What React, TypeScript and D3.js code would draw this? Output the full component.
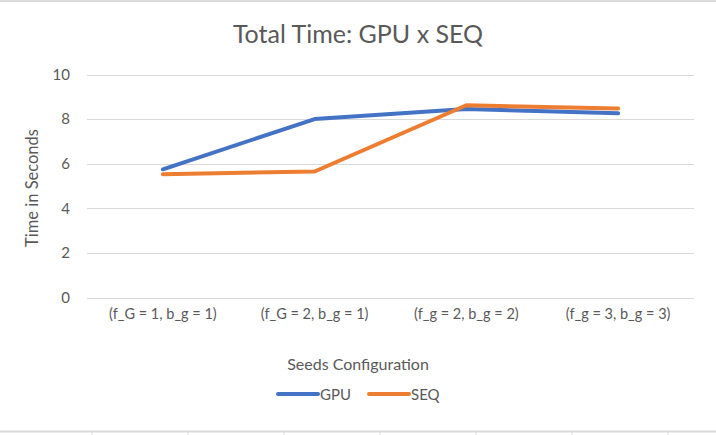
import * as d3 from 'd3';
import React, { useEffect, useRef } from 'react';

const categories = ['(f_G = 1, b_g = 1)', '(f_G = 2, b_g = 1)', '(f_g = 2, b_g = 2)', '(f_g = 3, b_g = 3)'];
const gpuTimes = [5.75, 8.0, 8.45, 8.26];
const seqTimes = [5.53, 5.65, 8.62, 8.48];
const yTicks = [0, 2, 4, 6, 8, 10];
const seriesNames = ['GPU', 'SEQ'];

const W = 716;
const H = 435;
const FONT = 'Lato, "Open Sans", sans-serif';
const TEXT = '#595959';
const GRID = '#d9d9d9';
const colors = ['#4472C4', '#ED7D31'];

const App = () => {
  const ref = useRef<SVGSVGElement | null>(null);

  useEffect(() => {
    if (!ref.current) return;
    const svg = d3.select(ref.current);
    svg.selectAll('*').remove();

    svg.append('rect').attr('width', W).attr('height', H).style('fill', '#fff');

    // sheet borders around the chart
    svg.append('line').attr('x1', 0).attr('x2', W).attr('y1', 1).attr('y2', 1)
      .style('stroke', GRID).style('stroke-width', 2);
    svg.append('line').attr('x1', 0).attr('x2', W).attr('y1', 431.5).attr('y2', 431.5)
      .style('stroke', GRID).style('stroke-width', 2);
    d3.range(7).forEach((i) => {
      const x = 92 + i * 96;
      svg.append('line').attr('x1', x).attr('x2', x).attr('y1', 432).attr('y2', H)
        .style('stroke', GRID).style('stroke-width', 1);
    });

    const xScale = d3.scaleBand().domain(categories).range([87, 694]);
    const yScale = d3.scaleLinear().domain([0, 10]).range([297.5, 74.5]);

    // title
    svg.append('text')
      .attr('x', 358).attr('y', 43)
      .attr('text-anchor', 'middle')
      .style('font-family', FONT).style('font-size', '25px').style('fill', TEXT)
      .text('Total Time: GPU x SEQ');

    // gridlines
    const grid = svg.append('g');
    yTicks.forEach((t) => {
      grid.append('line')
        .attr('x1', 87).attr('x2', 694)
        .attr('y1', Math.round(yScale(t)) + 0.5).attr('y2', Math.round(yScale(t)) + 0.5)
        .style('stroke', GRID).style('stroke-width', 1);
    });

    const yAxis = svg.append('g').attr('transform', 'translate(76,0)')
      .call(d3.axisLeft(yScale).tickValues(yTicks).tickSize(0).tickPadding(6));
    yAxis.select('.domain').remove();
    yAxis.selectAll('text').style('font-family', FONT).style('font-size', '15px').style('fill', TEXT);

    const xAxis = svg.append('g').attr('transform', 'translate(0,306)')
      .call(d3.axisBottom(xScale).tickSize(0).tickPadding(3));
    xAxis.select('.domain').remove();
    xAxis.selectAll('text').style('font-family', FONT).style('font-size', '14.5px').style('fill', TEXT);

    // axis titles
    svg.append('text')
      .attr('transform', 'translate(38,188) rotate(-90)')
      .attr('text-anchor', 'middle')
      .style('font-family', FONT).style('font-size', '16.5px').style('fill', TEXT)
      .text('Time in Seconds');
    svg.append('text')
      .attr('x', 358).attr('y', 370)
      .attr('text-anchor', 'middle')
      .style('font-family', FONT).style('font-size', '16px').style('fill', TEXT)
      .text('Seeds Configuration');

    // lines
    const line = d3.line<number>()
      .x((d, i) => (xScale(categories[i]) as number) + xScale.bandwidth() / 2)
      .y((d) => yScale(d));
    [gpuTimes, seqTimes].forEach((vals, i) => {
      svg.append('path')
        .datum(vals)
        .attr('d', line)
        .style('fill', 'none')
        .style('stroke', colors[i])
        .style('stroke-width', 4)
        .style('stroke-linecap', 'round')
        .style('stroke-linejoin', 'round');
    });

    // legend
    const legendX = [278, 369];
    seriesNames.forEach((name, i) => {
      const g = svg.append('g').attr('transform', `translate(${legendX[i]},394)`);
      g.append('line').attr('x1', 0).attr('x2', 40).attr('y1', 0).attr('y2', 0)
        .style('stroke', colors[i]).style('stroke-width', 4).style('stroke-linecap', 'round');
      g.append('text').attr('x', 42).attr('y', 5.5)
        .style('font-family', FONT).style('font-size', '15px').style('fill', TEXT)
        .text(name);
    });
  }, []);

  return (
    <svg ref={ref} width={W} height={H} style={{ position: 'absolute', left: 0, top: 0, display: 'block' }} />
  );
};

export default App;
